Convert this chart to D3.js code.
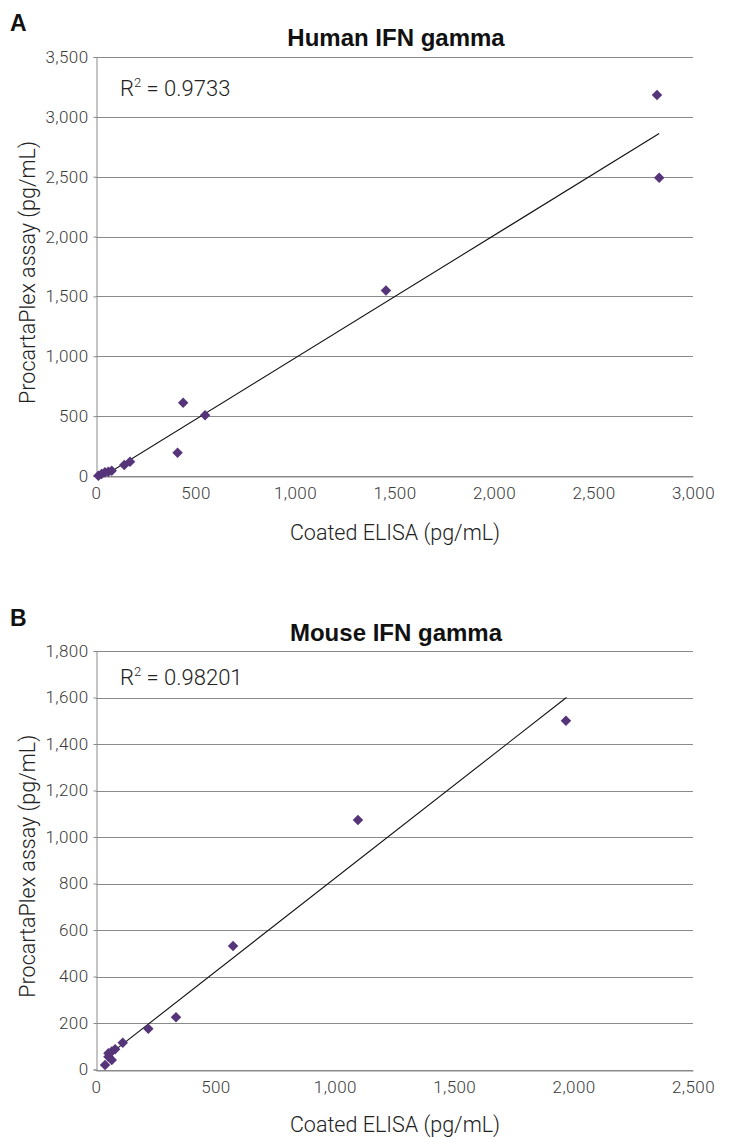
<!DOCTYPE html>
<html>
<head>
<meta charset="utf-8">
<script src="https://cdn.jsdelivr.net/npm/d3@7"></script>
<style>
  html, body { margin: 0; padding: 0; background: #fff; }
  svg { display: block; }
  .tick text { font-family: Roboto, "Liberation Sans", sans-serif; font-weight: 300; letter-spacing: 0.4px; }
</style>
</head>
<body>
<svg id="chart" width="732" height="1138"></svg>
<script>
// ---- Data ----
const humanElisa    = [12, 28, 45, 62, 79, 142, 171, 410, 438, 548, 1457, 2819, 2830];
const humanProcarta = [3, 17, 31, 36, 44, 92, 119, 194, 611, 508, 1550, 3183, 2492];
const humanTrendX   = [12, 2830];
const humanTrendY   = [-28, 2861];
const humanXTicks   = [0, 500, 1000, 1500, 2000, 2500, 3000];
const humanYTicks   = [0, 500, 1000, 1500, 2000, 2500, 3000, 3500];

const mouseElisa    = [38, 52, 52, 66, 66, 80, 112, 219, 335, 574, 1097, 1968];
const mouseProcarta = [19, 55, 70, 41, 77, 87, 115, 175, 225, 531, 1073, 1500];
const mouseTrendX   = [38, 1970];
const mouseTrendY   = [50, 1600];
const mouseXTicks   = [0, 500, 1000, 1500, 2000, 2500];
const mouseYTicks   = [0, 200, 400, 600, 800, 1000, 1200, 1400, 1600, 1800];

const panels = [
  { letter: "A", title: "Human IFN gamma", r2: "0.9733",
    xs: humanElisa, ys: humanProcarta, tx: humanTrendX, ty: humanTrendY,
    xTicks: humanXTicks, yTicks: humanYTicks, top: 57, bottom: 476,
    letterY: 31, titleY: 46, r2Y: 96, xTitleY: 540 },
  { letter: "B", title: "Mouse IFN gamma", r2: "0.98201",
    xs: mouseElisa, ys: mouseProcarta, tx: mouseTrendX, ty: mouseTrendY,
    xTicks: mouseXTicks, yTicks: mouseYTicks, top: 651, bottom: 1069.5,
    letterY: 626, titleY: 641, r2Y: 685, xTitleY: 1132 }
];

const svg = d3.select("#chart");
const left = 96, right = 693;
const fmt = d3.format(",");
const purple = "#563479";
const grid = "#8a8a8a";

panels.forEach((p, pi) => {
  const g = svg.append("g");
  const x = d3.scaleLinear().domain([p.xTicks[0], p.xTicks[p.xTicks.length-1]]).range([left, right]);
  const y = d3.scaleLinear().domain([p.yTicks[0], p.yTicks[p.yTicks.length-1]]).range([p.bottom, p.top]);

  // gridlines
  g.append("g").selectAll("line").data(p.yTicks).join("line")
    .attr("x1", left).attr("x2", right)
    .attr("y1", d => Math.round(y(d)) + 0.5).attr("y2", d => Math.round(y(d)) + 0.5)
    .attr("stroke", grid).attr("stroke-width", 1);

  // y axis
  const yAxis = g.append("g").attr("transform", `translate(${left + 0.5},0)`)
    .call(d3.axisLeft(y).tickValues(p.yTicks).tickFormat(fmt).tickSize(3).tickPadding(5));
  yAxis.select(".domain").attr("stroke", grid);
  yAxis.selectAll(".tick line").attr("stroke", grid);
  yAxis.selectAll(".tick text").attr("font-size", 17).attr("fill", "#3a3a3a");

  // x axis
  const xAxis = g.append("g").attr("transform", `translate(0,${Math.round(p.bottom) + 0.5})`)
    .call(d3.axisBottom(x).tickValues(p.xTicks).tickFormat(fmt).tickSize(0).tickPadding(10));
  xAxis.select(".domain").attr("stroke", grid);
  xAxis.selectAll(".tick text").attr("font-size", 17).attr("fill", "#3a3a3a");

  // clip
  const cid = "clip" + pi;
  svg.append("clipPath").attr("id", cid).append("rect")
    .attr("x", left).attr("y", p.top).attr("width", right - left).attr("height", p.bottom - p.top);

  // trend line
  const trend = p.tx.map((d, i) => [d, p.ty[i]]);
  g.append("path").datum(trend)
    .attr("clip-path", `url(#${cid})`)
    .attr("d", d3.line().x(d => x(d[0])).y(d => y(d[1])))
    .attr("stroke", "#111").attr("stroke-width", 1.1).attr("fill", "none");

  // points (diamonds)
  const pts = p.xs.map((d, i) => [d, p.ys[i]]);
  const sym = d3.symbol().type(d3.symbolDiamond2).size(70);
  g.append("g").selectAll("path").data(pts).join("path")
    .attr("transform", d => `translate(${x(d[0])},${y(d[1])})`)
    .attr("d", sym)
    .attr("fill", purple);

  // panel letter
  g.append("text").attr("x", 10).attr("y", p.letterY)
    .attr("font-family", "Liberation Sans, Arial, sans-serif").attr("font-weight", "bold")
    .attr("font-size", 23).attr("fill", "#111").text(p.letter);

  // title
  g.append("text").attr("x", 396).attr("y", p.titleY).attr("text-anchor", "middle")
    .attr("font-family", "Liberation Sans, Arial, sans-serif").attr("font-weight", "bold")
    .attr("font-size", 24).attr("fill", "#111").text(p.title);

  // R^2 label
  const r = g.append("text").attr("x", 120).attr("y", p.r2Y)
    .attr("font-family", "Roboto, sans-serif").attr("font-weight", 300)
    .attr("font-size", 22).attr("fill", "#222");
  r.append("tspan").text("R");
  r.append("tspan").attr("font-size", 13).attr("dy", -9).text("2");
  r.append("tspan").attr("dy", 9).text(" = " + p.r2);

  // axis titles
  g.append("text").attr("x", 395).attr("y", p.xTitleY).attr("text-anchor", "middle")
    .attr("font-family", "Roboto, sans-serif").attr("font-weight", 300)
    .attr("font-size", 21.5).attr("fill", "#222").text("Coated ELISA (pg/mL)");
  g.append("text")
    .attr("transform", `translate(35,${(p.top + p.bottom) / 2 + 6}) rotate(-90)`)
    .attr("text-anchor", "middle")
    .attr("font-family", "Roboto, sans-serif").attr("font-weight", 300)
    .attr("font-size", 21.5).attr("fill", "#222").text("ProcartaPlex assay (pg/mL)");
});
</script>
</body>
</html>
